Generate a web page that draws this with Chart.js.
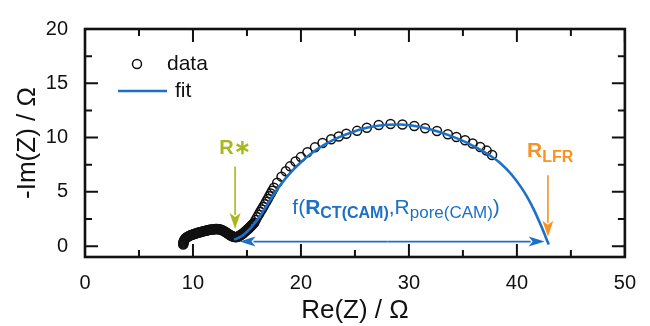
<!DOCTYPE html>
<html>
<head>
<meta charset="utf-8">
<script src="https://cdn.jsdelivr.net/npm/chart.js@4.4.1/dist/chart.umd.min.js"></script>
<style>
  html, body { margin: 0; padding: 0; background: #fff; }
  #c { display: block; }
</style>
</head>
<body>
<canvas id="c" width="650" height="326"></canvas>
<script>
// measured impedance (Re, -Im) in Ohm; the high-frequency arc is very densely sampled
const dataRe = [
  9.10, 9.11, 9.12, 9.14, 9.17, 9.21, 9.26, 9.32, 9.39, 9.47, 9.55, 9.64, 9.73, 9.82, 9.91,
  10.00, 10.09, 10.18, 10.27, 10.36, 10.45, 10.54, 10.63, 10.72, 10.81, 10.90, 10.99,
  11.08, 11.17, 11.26, 11.35, 11.44, 11.53, 11.62, 11.71, 11.80, 11.89, 11.98,
  12.07, 12.16, 12.25, 12.34, 12.43, 12.52, 12.61, 12.70, 12.79, 12.88, 12.97,
  13.06, 13.15, 13.24, 13.33, 13.42, 13.51, 13.60, 13.69, 13.78, 13.87, 13.96,
  14.05, 14.14, 14.23, 14.32, 14.41, 14.50, 14.59, 14.68, 14.77, 14.86, 14.95,
  15.04, 15.13, 15.22, 15.31, 15.40, 15.49, 15.58, 15.67, 15.80, 15.94,
  16.08, 16.22, 16.36, 16.50, 16.64, 16.78, 16.92, 17.06, 17.20, 17.34, 17.50, 17.80,
  18.20, 18.60, 19.00, 19.50, 20.00, 20.60, 21.30, 22.00, 22.80, 23.50, 24.20, 25.20, 26.10, 27.20,
  28.30, 29.40, 30.50, 31.50, 32.60, 33.60, 34.40, 35.20, 35.90, 36.60, 37.20, 37.70];
const dataIm = [
  0.15, 0.24, 0.33, 0.42, 0.50, 0.58, 0.65, 0.72, 0.78, 0.84, 0.89, 0.94, 0.98, 1.02, 1.05,
  1.08, 1.11, 1.14, 1.17, 1.20, 1.23, 1.26, 1.28, 1.31, 1.33, 1.36, 1.38,
  1.40, 1.42, 1.44, 1.46, 1.48, 1.50, 1.51, 1.53, 1.54, 1.55, 1.56,
  1.57, 1.57, 1.57, 1.56, 1.55, 1.53, 1.50, 1.47, 1.43, 1.38, 1.33,
  1.27, 1.21, 1.15, 1.09, 1.03, 0.98, 0.93, 0.89, 0.86, 0.84, 0.83,
  0.84, 0.87, 0.91, 0.96, 1.02, 1.08, 1.14, 1.21, 1.29, 1.37, 1.45,
  1.53, 1.61, 1.70, 1.79, 1.88, 1.97, 2.06, 2.16, 2.40, 2.65,
  2.90, 3.15, 3.38, 3.60, 3.85, 4.10, 4.35, 4.60, 4.85, 5.10, 5.38, 5.85,
  6.40, 6.90, 7.35, 7.80, 8.20, 8.65, 9.10, 9.50, 9.85, 10.10, 10.35, 10.62, 10.90, 11.15,
  11.25, 11.20, 11.07, 10.86, 10.60, 10.30, 10.05, 9.76, 9.46, 9.13, 8.80, 8.40];

// fitted curve
const fitRe = [13.80, 14.30, 14.80, 15.30, 15.80, 16.30, 16.80, 17.30, 17.80, 18.50, 19.30, 20.20, 21.20, 22.30, 23.50, 24.80, 26.20,
  27.70, 29.20, 30.70, 32.20, 33.60, 35.00, 36.30, 37.50, 38.50, 39.50, 40.30, 41.00, 41.60, 42.10, 42.50, 42.80, 42.95];
const fitIm = [0.60, 0.80, 1.15, 1.62, 2.22, 2.92, 3.70, 4.48, 5.22, 6.15, 7.05, 7.92, 8.72, 9.42, 10.02, 10.52, 10.92,
  11.16, 11.20, 11.04, 10.70, 10.25, 9.70, 9.05, 8.35, 7.62, 6.60, 5.55, 4.45, 3.30, 2.20, 1.25, 0.50, 0.15];

const xTicks = [0, 10, 20, 30, 40, 50];
const xMinor = [5, 15, 25, 35, 45];
const yTicks = [0, 5, 10, 15, 20];
const yMinor = [2.5, 7.5, 12.5, 17.5];

const BLUE = 'rgb(28,112,200)';
const OLIVE = 'rgb(168,184,28)';
const ORANGE = 'rgb(248,146,32)';
const FONT = "'Liberation Sans', Arial, sans-serif";

function arrow(ctx, x1, y1, x2, y2, color, hl, hw) {
  const a = Math.atan2(y2 - y1, x2 - x1);
  const bx = x2 - hl * Math.cos(a), by = y2 - hl * Math.sin(a);
  ctx.strokeStyle = color;
  ctx.fillStyle = color;
  ctx.lineWidth = 1.6;
  ctx.beginPath();
  ctx.moveTo(x1, y1);
  ctx.lineTo(bx + 2 * Math.cos(a), by + 2 * Math.sin(a));
  ctx.stroke();
  ctx.beginPath();
  ctx.moveTo(x2, y2);
  ctx.lineTo(bx + hw * Math.sin(a), by - hw * Math.cos(a));
  ctx.lineTo(bx + 4 * Math.cos(a), by + 4 * Math.sin(a));
  ctx.lineTo(bx - hw * Math.sin(a), by + hw * Math.cos(a));
  ctx.closePath();
  ctx.fill();
}

// draw a run of [text, font, dy] pieces from x
function textRun(ctx, x, y, parts, color) {
  ctx.fillStyle = color;
  ctx.textAlign = 'left';
  ctx.textBaseline = 'alphabetic';
  parts.forEach(([t, f, dy]) => {
    ctx.font = f;
    ctx.fillText(t, x, y + dy);
    x += ctx.measureText(t).width;
  });
  return x;
}

const frame = {
  id: 'frame',
  afterDraw(chart) {
    const { ctx, chartArea: a, scales: { x, y } } = chart;
    ctx.save();
    ctx.strokeStyle = '#111';
    ctx.lineWidth = 2;
    ctx.beginPath();
    const tick = (vals, len) => {
      vals.forEach(v => {
        const px = x.getPixelForValue(v);
        ctx.moveTo(px, a.bottom); ctx.lineTo(px, a.bottom - len);
        ctx.moveTo(px, a.top); ctx.lineTo(px, a.top + len);
      });
    };
    const tickY = (vals, len) => {
      vals.forEach(v => {
        const py = y.getPixelForValue(v);
        ctx.moveTo(a.left, py); ctx.lineTo(a.left + len, py);
        ctx.moveTo(a.right, py); ctx.lineTo(a.right - len, py);
      });
    };
    tick(xTicks, 13); tick(xMinor, 7);
    tickY(yTicks, 13); tickY(yMinor, 7);
    ctx.stroke();
    ctx.lineWidth = 2.6;
    ctx.strokeRect(a.left, a.top, a.right - a.left, a.bottom - a.top);

    // legend
    const lx = a.left, ly = a.top;
    ctx.lineWidth = 1.5;
    ctx.beginPath();
    ctx.arc(lx + 52, ly + 35, 4.5, 0, Math.PI * 2);
    ctx.stroke();
    ctx.strokeStyle = BLUE;
    ctx.lineWidth = 2.6;
    ctx.beginPath();
    ctx.moveTo(lx + 33, ly + 62); ctx.lineTo(lx + 82, ly + 62);
    ctx.stroke();
    ctx.fillStyle = '#111';
    ctx.font = '21px ' + FONT;
    ctx.textBaseline = 'middle';
    ctx.fillText('data', lx + 82, ly + 35);
    ctx.fillText('fit', lx + 90, ly + 62);

    // annotations
    const X = v => x.getPixelForValue(v), Y = v => y.getPixelForValue(v);
    arrow(ctx, X(13.9), Y(7.33), X(13.9), Y(1.57), OLIVE, 16, 5.5);
    ctx.fillStyle = OLIVE;
    ctx.font = 'bold 20px ' + FONT;
    ctx.textAlign = 'center';
    ctx.textBaseline = 'alphabetic';
    ctx.fillText('R\u2217', X(13.9), Y(8.52));

    arrow(ctx, X(42.87), Y(6.53), X(42.87), Y(0.86), ORANGE, 16, 5.5);
    textRun(ctx, X(40.94), Y(8.21), [['R', 'bold 21px ' + FONT, 0], ['LFR', 'bold 16px ' + FONT, 4.5]], ORANGE);

    const ay = Y(0.42);
    arrow(ctx, X(28), ay, X(42.57), ay, BLUE, 16, 5);
    arrow(ctx, X(28), ay, X(14.31), ay, BLUE, 16, 5);
    textRun(ctx, X(19.2), Y(2.98), [
      ['f(', '21px ' + FONT, 0],
      ['R', 'bold 21px ' + FONT, 0],
      ['CT(CAM)', 'bold 16px ' + FONT, 4.5],
      [',', '21px ' + FONT, 0],
      ['R', '21px ' + FONT, 0],
      ['pore(CAM)', '17px ' + FONT, 4.5],
      [')', '21px ' + FONT, 0]
    ], BLUE);
    ctx.restore();
  }
};

new Chart(document.getElementById('c'), {
  type: 'scatter',
  data: {
    datasets: [
      {
        label: 'data',
        data: dataRe.map((v, i) => ({ x: v, y: dataIm[i] })),
        pointRadius: 4.5,
        pointBorderWidth: 1.5,
        pointBorderColor: '#111',
        pointBackgroundColor: 'rgba(0,0,0,0)',
        order: 1
      },
      {
        label: 'fit',
        data: fitRe.map((v, i) => ({ x: v, y: fitIm[i] })),
        showLine: true,
        pointRadius: 0,
        borderColor: BLUE,
        borderWidth: 2.6,
        cubicInterpolationMode: 'monotone',
        order: 0
      }
    ]
  },
  options: {
    responsive: false,
    animation: false,
    layout: { padding: { top: 20, right: 13, left: 0, bottom: 0 } },
    plugins: { legend: { display: false }, tooltip: { enabled: false } },
    scales: {
      x: {
        type: 'linear', min: 0, max: 50,
        afterBuildTicks: s => { s.ticks = xTicks.map(v => ({ value: v })); },
        afterFit: s => { s.height = 69; },
        grid: { display: false, drawTicks: false },
        border: { display: false },
        ticks: { color: '#111', padding: 14, font: { family: FONT, size: 20 } },
        title: { display: true, text: 'Re(Z) / \u03a9', color: '#111', padding: { top: 2, bottom: 0 }, font: { family: FONT, size: 26 } }
      },
      y: {
        type: 'linear', min: -1, max: 20,
        afterBuildTicks: s => { s.ticks = yTicks.map(v => ({ value: v })); },
        afterFit: s => { s.width = 85; },
        grid: { display: false, drawTicks: false },
        border: { display: false },
        ticks: { color: '#111', padding: 17, font: { family: FONT, size: 20 } },
        title: { display: true, text: '-Im(Z) / \u03a9', color: '#111', padding: { top: 12, bottom: 0 }, font: { family: FONT, size: 26 } }
      }
    }
  },
  plugins: [frame]
});
</script>
</body>
</html>
